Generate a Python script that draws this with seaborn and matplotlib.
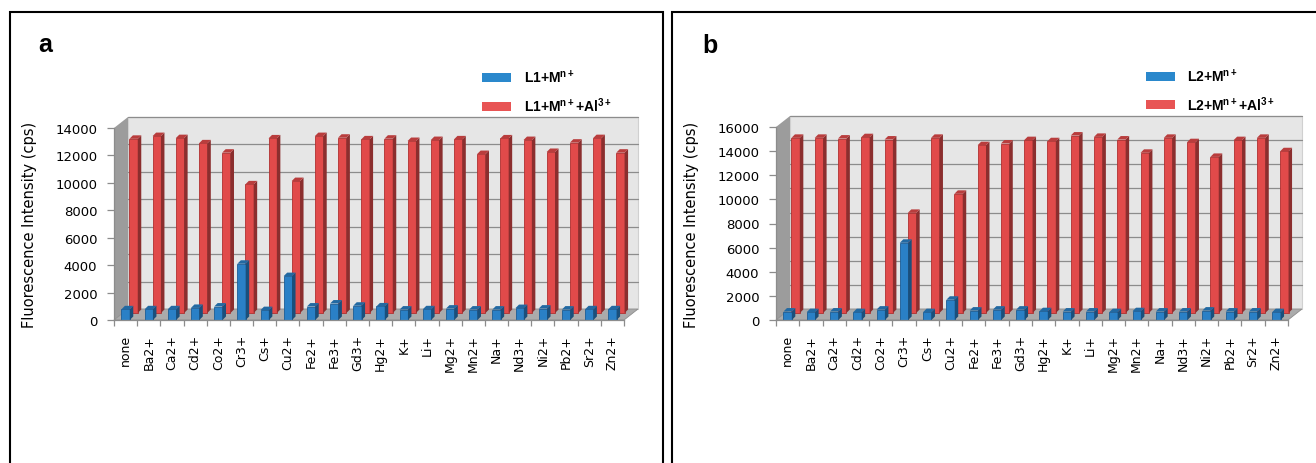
import numpy as np
import pandas as pd
import matplotlib
matplotlib.use("Agg")
import matplotlib.pyplot as plt
import matplotlib.transforms as mtransforms
from matplotlib.patches import Rectangle, Polygon, Patch
from matplotlib.font_manager import FontProperties
import matplotlib.colors as mcolors
import seaborn as sns

# ---------------- data ----------------
ions = ["none", "Ba2+", "Ca2+", "Cd2+", "Co2+", "Cr3+", "Cs+", "Cu2+", "Fe2+", "Fe3+",
        "Gd3+", "Hg2+", "K+", "Li+", "Mg2+", "Mn2+", "Na+", "Nd3+", "Ni2+", "Pb2+",
        "Sr2+", "Zn2+"]

a_blue = [780, 780, 780, 880, 980, 4100, 720, 3200, 980, 1200, 1040, 990,
          760, 780, 830, 760, 760, 870, 830, 760, 780, 780]
a_red = [12700, 12900, 12750, 12370, 11690, 9380, 12730, 9620, 12900, 12780, 12660,
         12710, 12540, 12610, 12660, 11590, 12730, 12610, 11740, 12420, 12750, 11690]

b_blue = [700, 650, 700, 650, 860, 6400, 650, 1680, 780, 860, 860, 730, 700,
          700, 650, 730, 700, 700, 780, 700, 700, 650]
b_red = [14520, 14520, 14460, 14575, 14380, 8300, 14520, 9880, 13910, 14050, 14330,
         14240, 14710, 14600, 14380, 13280, 14520, 14160, 12940, 14330, 14520, 13410]

a_labels = ["L1+M$^{n+}$", "L1+M$^{n+}$+Al$^{3+}$"]
b_labels = ["L2+M$^{n+}$", "L2+M$^{n+}$+Al$^{3+}$"]
a_yticks = [0, 2000, 4000, 6000, 8000, 10000, 12000, 14000]
b_yticks = [0, 2000, 4000, 6000, 8000, 10000, 12000, 14000, 16000]
ylabel = "Fluorescence Intensity (cps)"

# ---------------- style ----------------
sns.set_theme(style="white")
plt.rcParams["font.family"] = ["DejaVu Sans"]
plt.rcParams["mathtext.fontset"] = "custom"
plt.rcParams["mathtext.rm"] = "Liberation Sans:bold"
plt.rcParams["mathtext.it"] = "Liberation Sans:bold"
plt.rcParams["mathtext.bf"] = "Liberation Sans:bold"
plt.rcParams["mathtext.default"] = "bf"
for k in ["text.color", "axes.labelcolor", "xtick.color", "ytick.color"]:
    plt.rcParams[k] = "black"

BLUE = "#2a80c6"
BLUE_EDGE = "#1b5d96"
RED = "#e14a4a"
RED_EDGE = "#b03030"
LEG_BLUE = "#2a88cc"
LEG_RED = "#e85454"

W, H, DPI = 1316, 464, 100
fig = plt.figure(figsize=(W / DPI, H / DPI), dpi=DPI)

ax_a = fig.add_axes([114 / W, (H - 321) / H, 510 / W, 192 / H])
ax_b = fig.add_axes([776 / W, (H - 321) / H, 512 / W, 193 / H])


def px_offset(dx, dy):
    return mtransforms.ScaledTranslation(dx / DPI, dy / DPI, fig.dpi_scale_trans)


def shade(c, f):
    r, g, b = mcolors.to_rgb(c)
    if f < 1:
        return (r * f, g * f, b * f)
    return (r + (1 - r) * (f - 1), g + (1 - g) * (f - 1), b + (1 - b) * (f - 1))


def add_3d_faces(ax, patch, base_color, extra_trans, zorder, d=3.5):
    """Add side and top faces to a bar, derived from the bar's own geometry."""
    trans = ax.transData + extra_trans if extra_trans is not None else ax.transData
    x0, y0 = patch.get_x(), patch.get_y()
    x1, y1 = x0 + patch.get_width(), y0 + patch.get_height()
    (dx0, dy0), (dx1, dy1) = trans.transform([(x0, y0), (x1, y1)])
    side = Polygon([(dx1, dy0), (dx1 + d, dy0 + d), (dx1 + d, dy1 + d), (dx1, dy1)],
                   closed=True, transform=mtransforms.IdentityTransform(),
                   facecolor=shade(base_color, 0.62), edgecolor="none",
                   zorder=zorder, clip_on=False)
    top = Polygon([(dx0, dy1), (dx0 + d, dy1 + d), (dx1 + d, dy1 + d), (dx1, dy1)],
                  closed=True, transform=mtransforms.IdentityTransform(),
                  facecolor=shade(base_color, 0.82), edgecolor="none",
                  zorder=zorder, clip_on=False)
    fig.add_artist(side)
    fig.add_artist(top)


def draw_panel(ax, blue, red, labels, yticks):
    n = len(ions)
    df = pd.DataFrame({
        "ion": ions + ions,
        "series": [labels[0]] * n + [labels[1]] * n,
        "value": blue + red,
    })
    sns.barplot(data=df, x="ion", y="value", hue="series", dodge=False,
                palette=[BLUE, RED], width=0.36, saturation=1, ax=ax,
                legend=False, errorbar=None)
    ymax = yticks[-1]
    ax.set_ylim(0, ymax)
    ax.set_xlim(-0.5, n - 0.5)
    ax.set_facecolor("none")

    # depth offsets (pixels)
    wdx, wdy = 14, 11
    rdx, rdy = 8, 7
    off_wall = px_offset(wdx, wdy)
    off_red = px_offset(rdx, rdy)

    blue_bars, red_bars = ax.containers[0], ax.containers[1]
    for p in blue_bars:
        p.set_edgecolor(BLUE_EDGE)
        p.set_linewidth(0.6)
        p.set_zorder(4)
    for p in red_bars:
        p.set_edgecolor(RED_EDGE)
        p.set_linewidth(0.6)
        p.set_zorder(3)
        p.set_transform(ax.transData + off_red)
        p.set_clip_on(False)

    pos = ax.get_position()
    fx = wdx / (W * pos.width)
    fy = wdy / (H * pos.height)

    # back wall
    ax.add_patch(Rectangle((0, 0), 1, 1, transform=ax.transAxes + off_wall,
                           facecolor="#e6e6e6", edgecolor="#d0d0d0", lw=0.8,
                           zorder=0, clip_on=False))
    # left side wall
    ax.add_patch(Polygon([(0, 0), (fx, fy), (fx, 1 + fy), (0, 1)], closed=True,
                         transform=ax.transAxes, facecolor="#9c9c9c",
                         edgecolor="none", zorder=0.5, clip_on=False))
    # floor
    ax.add_patch(Polygon([(0, 0), (1, 0), (1 + fx, fy), (fx, fy)], closed=True,
                         transform=ax.transAxes, facecolor="#ababab",
                         edgecolor="#8c8c8c", lw=0.6, zorder=1, clip_on=False))
    # back-wall gridlines
    for v in yticks[1:]:
        ax.plot([-0.5, n - 0.5], [v, v], transform=ax.transData + off_wall,
                color="#8c8c8c", lw=0.9, zorder=1.5, clip_on=False)

    # 3-D faces for the bars (figure-level artists, placed by z-order of figure)
    for p in red_bars:
        add_3d_faces(ax, p, RED, off_red, zorder=3)
    for p in blue_bars:
        add_3d_faces(ax, p, BLUE, None, zorder=4)

    # axes cosmetics
    for s in ["top", "right"]:
        ax.spines[s].set_visible(False)
    for s in ["left", "bottom"]:
        ax.spines[s].set_color("#8c8c8c")
        ax.spines[s].set_linewidth(0.9)
        ax.spines[s].set_zorder(5)
    ax.set_yticks(yticks)
    ax.set_yticklabels([str(v) for v in yticks])
    ax.tick_params(axis="y", length=5, width=0.9, color="#8c8c8c",
                   labelsize=9.5, pad=7, left=True)
    ax.set_xticks(range(n))
    ax.set_xticklabels(ions, rotation=90)
    ax.set_xticks(np.arange(n + 1) - 0.5, minor=True)
    ax.tick_params(axis="x", which="major", length=0, labelsize=9, pad=10)
    ax.tick_params(axis="x", which="minor", length=4, width=0.9,
                   color="#8c8c8c", bottom=True)
    ax.set_xlabel("")
    ax.set_ylabel(ylabel, fontsize=10.5)
    ax.yaxis.set_label_coords(-0.15, 0.5)

    handles = [Patch(facecolor=LEG_BLUE, edgecolor="none"),
               Patch(facecolor=LEG_RED, edgecolor="none")]
    ax.legend(handles, labels, loc="upper left", bbox_to_anchor=(0.722, 1.31),
              frameon=False, prop=FontProperties(family="Liberation Sans",
                                                 weight="bold", size=10),
              handlelength=2.1, handleheight=0.6, labelspacing=0.7,
              handletextpad=0.9, borderaxespad=0, borderpad=0)


draw_panel(ax_a, a_blue, a_red, a_labels, a_yticks)
draw_panel(ax_b, b_blue, b_red, b_labels, b_yticks)

# panel letters
fig.text(38 / W, 1 - 52 / H, "a", fontsize=18, fontweight="bold",
         family="Liberation Sans", va="baseline")
fig.text(702 / W, 1 - 53 / H, "b", fontsize=18, fontweight="bold",
         family="Liberation Sans", va="baseline")

# panel frames
lw = 1.5
fig.add_artist(Rectangle((10 / W, -0.1), (663 - 10) / W, 1.1 - 13 / H,
                         transform=fig.transFigure, fill=False,
                         edgecolor="black", lw=lw))
fig.add_artist(Rectangle((672 / W, -0.1), 0.6, 1.1 - 13 / H,
                         transform=fig.transFigure, fill=False,
                         edgecolor="black", lw=lw))

fig.savefig("out.png", dpi=DPI)
